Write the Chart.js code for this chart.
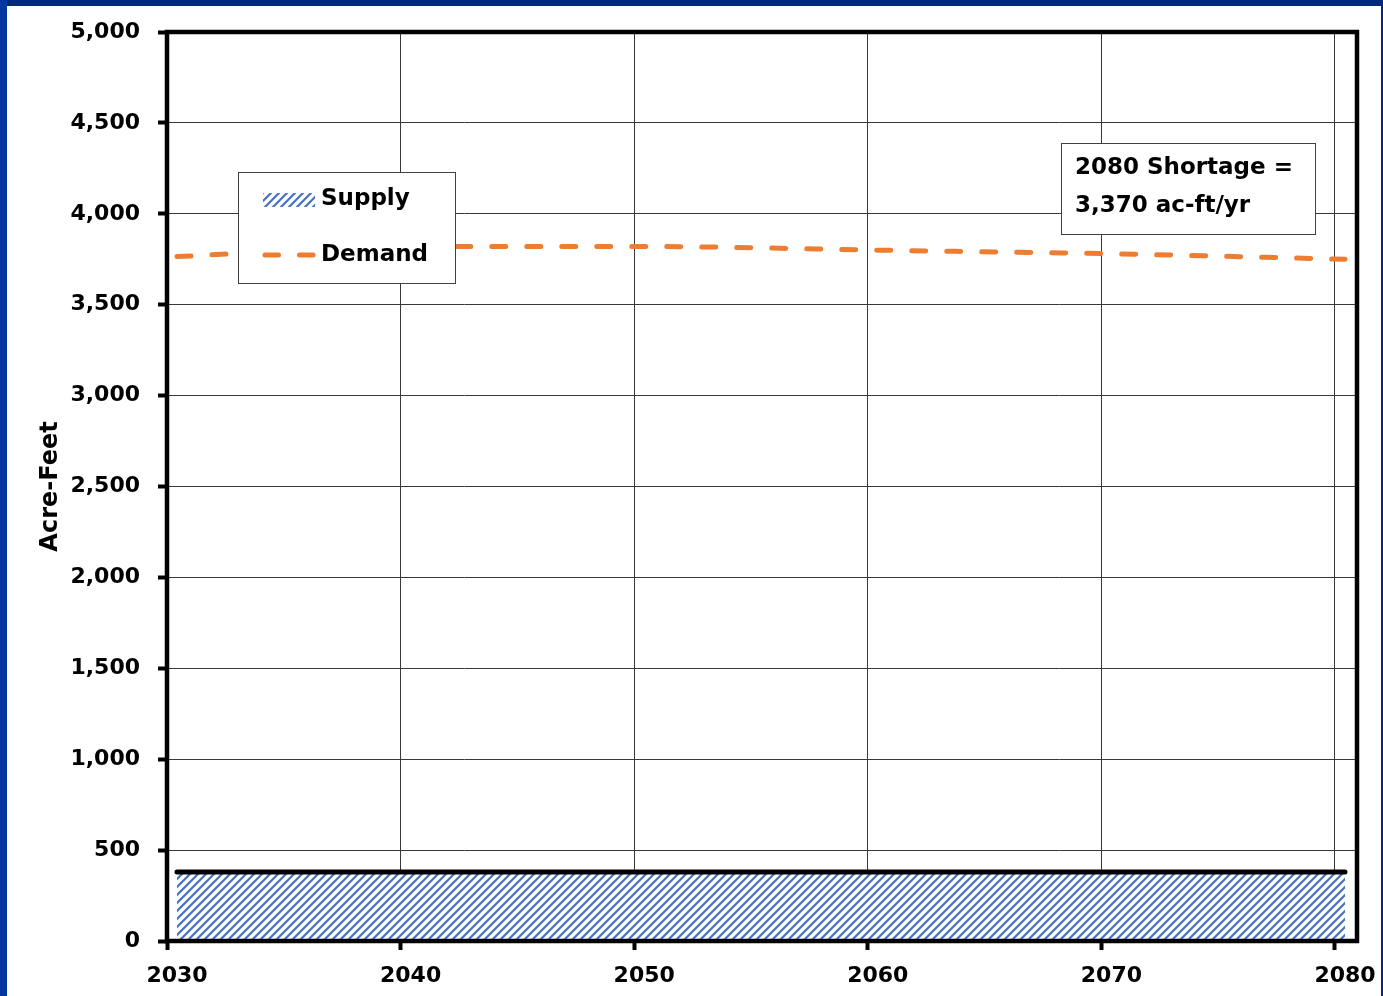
<!DOCTYPE html>
<html>
<head>
<meta charset="utf-8">
<script src="https://cdn.jsdelivr.net/npm/chart.js@4.4.1/dist/chart.umd.min.js"></script>
<style>
html, body { margin: 0; padding: 0; background: #ffffff; }
canvas { display: block; }
</style>
</head>
<body>
<canvas id="c" width="1383" height="996"></canvas>
<script>
// ---------------- data ----------------
const years = [2030, 2040, 2050, 2060, 2070, 2080];
const supply = [380, 380, 380, 380, 380, 380];
const demand = [3765, 3820, 3820, 3800, 3780, 3750];
const xTickLabels = ['2030', '2040', '2050', '2060', '2070', '2080'];
const seriesNames = ['Supply', 'Demand'];
const yAxisTitle = 'Acre-Feet';
const noteLines = ['2080 Shortage =', '3,370 ac-ft/yr'];

// ---------------- styles ----------------
const FONT = '"DejaVu Sans", "Liberation Sans", Arial, sans-serif';
const ORANGE = '#ED7D31';
const HATCH_BLUE = '#4472C4';
const GRID = '#383838';

const canvas = document.getElementById('c');
const ctx = canvas.getContext('2d');

function makeHatch(c) {
  const P = 8;
  const t = document.createElement('canvas');
  t.width = P; t.height = P;
  const g = t.getContext('2d');
  g.fillStyle = '#ffffff';
  g.fillRect(0, 0, P, P);
  g.strokeStyle = HATCH_BLUE;
  g.lineWidth = 2.2;
  g.lineCap = 'square';
  g.beginPath();
  for (let k = -1; k <= 2; k++) {
    const s = k * P;
    g.moveTo(s - P, P + P); g.lineTo(s + P + P, -P);
  }
  g.stroke();
  return c.createPattern(t, 'repeat');
}
const hatch = makeHatch(ctx);

const pts = (arr) => years.map((y, i) => ({ x: y, y: arr[i] }));

const framePlugin = {
  id: 'frame',
  afterDatasetsDraw(chart) {
    const { ctx, chartArea: a } = chart;
    ctx.save();
    ctx.strokeStyle = '#000';
    ctx.lineWidth = 4.5;
    ctx.strokeRect(a.left, a.top, a.right - a.left, a.bottom - a.top);
    ctx.restore();
  },
  afterDraw(chart) {
    const { ctx, chartArea: a } = chart;
    ctx.save();
    // legend box
    const lx = a.left + 71, ly = a.top + 140, lw = 217, lh = 111;
    ctx.fillStyle = '#fff';
    ctx.fillRect(lx, ly, lw, lh);
    ctx.strokeStyle = '#404040';
    ctx.lineWidth = 1;
    ctx.strokeRect(lx + 0.5, ly + 0.5, lw, lh);
    const ds = chart.data.datasets;
    // supply swatch
    ctx.fillStyle = ds[0].backgroundColor;
    ctx.fillRect(lx + 25, ly + 21, 52, 14);
    // demand swatch
    ctx.strokeStyle = ds[1].borderColor;
    ctx.lineWidth = 5;
    ctx.lineCap = 'round';
    ctx.setLineDash([13.5, 21]);
    ctx.beginPath();
    ctx.moveTo(lx + 27, ly + 83);
    ctx.lineTo(lx + 76, ly + 83);
    ctx.stroke();
    ctx.setLineDash([]);
    ctx.fillStyle = '#000';
    ctx.font = 'bold 23px ' + FONT;
    ctx.textAlign = 'left';
    ctx.textBaseline = 'middle';
    ctx.fillText(ds[0].label, lx + 83, ly + 27);
    ctx.fillText(ds[1].label, lx + 83, ly + 83);

    // note box
    const nx = a.left + 894, ny = a.top + 111, nw = 254, nh = 91;
    ctx.fillStyle = '#fff';
    ctx.fillRect(nx, ny, nw, nh);
    ctx.strokeStyle = '#404040';
    ctx.lineWidth = 1;
    ctx.strokeRect(nx + 0.5, ny + 0.5, nw, nh);
    ctx.fillStyle = '#000';
    ctx.fillText(noteLines[0], nx + 14, ny + 25);
    ctx.fillText(noteLines[1], nx + 14, ny + 63);

    // outer navy frame
    ctx.fillStyle = '#00297A';
    ctx.fillRect(0, 0, chart.width, 6);
    ctx.fillStyle = '#0636A0';
    ctx.fillRect(0, 0, 7, chart.height);
    ctx.fillStyle = '#00297A';
    ctx.fillRect(chart.width - 2, 0, 2, chart.height);
    ctx.restore();
  }
};

const xMin = 2029.572, xMax = 2080.514;

new Chart(ctx, {
  type: 'line',
  data: {
    datasets: [
      {
        label: seriesNames[0],
        data: pts(supply),
        borderColor: '#000',
        borderWidth: 5,
        borderCapStyle: 'round',
        backgroundColor: hatch,
        fill: 'origin',
        pointRadius: 0,
        tension: 0,
        order: 2
      },
      {
        label: seriesNames[1],
        data: pts(demand),
        borderColor: ORANGE,
        borderWidth: 5,
        borderDash: [14, 21],
        borderCapStyle: 'round',
        fill: false,
        pointRadius: 0,
        cubicInterpolationMode: 'monotone',
        order: 1
      }
    ]
  },
  options: {
    responsive: false,
    devicePixelRatio: 1,
    animation: false,
    layout: { padding: { top: 32, right: 26, bottom: 0, left: 0 } },
    plugins: {
      legend: { display: false },
      tooltip: { enabled: false },
      title: { display: false }
    },
    scales: {
      x: {
        type: 'linear',
        min: xMin,
        max: xMax,
        afterBuildTicks(scale) {
          scale.ticks = xTickLabels.map((_, i) => ({ value: xMin + 10 * i }));
        },
        afterFit(scale) { scale.height = 55; },
        ticks: {
          autoSkip: false,
          maxRotation: 0,
          labelOffset: 10,
          padding: 13,
          color: '#000',
          font: { family: FONT, size: 22, weight: 'bold' },
          callback: (v, i) => xTickLabels[i]
        },
        grid: {
          color: GRID,
          lineWidth: 1,
          drawTicks: true,
          tickLength: 9,
          tickWidth: 4,
          tickColor: '#000'
        },
        border: { display: false }
      },
      y: {
        min: 0,
        max: 5000,
        afterFit(scale) { scale.width = 167; },
        ticks: {
          stepSize: 500,
          padding: 18,
          color: '#000',
          font: { family: FONT, size: 22, weight: 'bold' },
          callback: (v) => v.toLocaleString('en-US')
        },
        grid: {
          color: GRID,
          lineWidth: 1,
          drawTicks: true,
          tickLength: 9,
          tickWidth: 4,
          tickColor: '#000'
        },
        border: { display: false },
        title: {
          display: true,
          text: yAxisTitle,
          color: '#000',
          font: { family: FONT, size: 24, weight: 'bold' },
          padding: { top: 36, bottom: 0 }
        }
      }
    }
  },
  plugins: [framePlugin]
});
</script>
</body>
</html>
